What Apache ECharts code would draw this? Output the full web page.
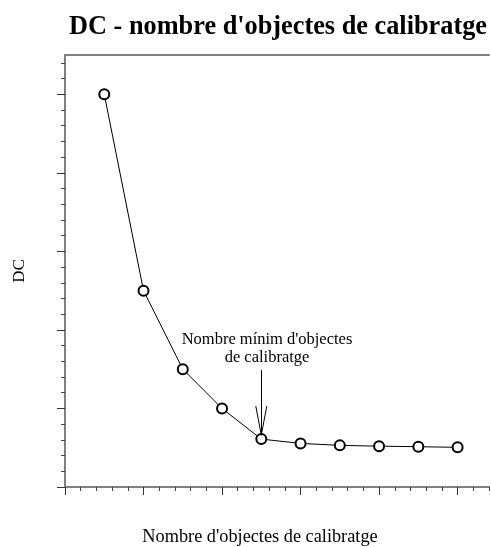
<!DOCTYPE html>
<html>
<head>
<meta charset="utf-8">
<script src="https://cdn.jsdelivr.net/npm/echarts@6/dist/echarts.min.js"></script>
<style>
  html, body { margin: 0; padding: 0; background: #fff; }
  #chart { width: 491px; height: 547px; }
</style>
</head>
<body>
<div id="chart"></div>
<script>
// nombre d'objectes de calibratge
const objectes = [5, 10, 15, 20, 25, 30, 35, 40, 45, 50]
// DC
const dcValues = [5.0, 2.5, 1.5, 1.0, 0.61, 0.555, 0.53, 0.52, 0.513, 0.505]

// ticks (no labels in the original)
const xMajorTicks = [0, 10, 20, 30, 40, 50]
const xMinorTicks = [2, 4, 6, 8, 12, 14, 16, 18, 22, 24, 26, 28, 32, 34, 36, 38, 42, 44, 46, 48, 52, 54]
const yMajorTicks = [0, 1, 2, 3, 4, 5]
const yMinorTicks = [0.2, 0.4, 0.6, 0.8, 1.2, 1.4, 1.6, 1.8, 2.2, 2.4, 2.6, 2.8, 3.2, 3.4, 3.6, 3.8, 4.2, 4.4, 4.6, 4.8, 5.2, 5.4]

// annotation arrow (data coords): shaft top, tip, and the two ends of the head
const arrowTop = [25, 1.49]
const arrowTip = [25, 0.66]
const arrowHeadL = [24.3, 1.03]
const arrowHeadR = [25.7, 1.03]
const noteText = "Nombre mínim d'objectes\nde calibratge"

const serif = '"Liberation Serif", "Times New Roman", serif'
const chart = echarts.init(document.getElementById('chart'))

const axisGray = '#808080'

chart.setOption({
  animation: false,
  title: {
    text: "DC - nombre d'objectes de calibratge",
    left: 64,
    top: 9,
    textStyle: {
      fontFamily: serif,
      fontWeight: 'bold',
      fontSize: 26.3,
      color: '#000'
    }
  },
  grid: {
    left: 65,
    right: 2,
    top: 55,
    bottom: 60,
    outerBoundsMode: 'none',
    containLabel: false
  },
  xAxis: [{
    type: 'value',
    min: 0,
    max: 54,
    position: 'bottom',
    offset: 0,
    name: "Nombre d'objectes de calibratge",
    nameLocation: 'middle',
    nameGap: 41,
    nameTextStyle: {
      fontFamily: serif,
      fontSize: 18.3,
      color: '#000',
      padding: [0, 34, 0, 0]
    },
    axisLine: { lineStyle: { color: axisGray, width: 2 } },
    axisTick: {
      show: true,
      length: 8,
      customValues: xMajorTicks,
      lineStyle: { color: '#333', width: 1 }
    },
    axisLabel: { show: false },
    splitLine: { show: false }
  }, {
    // minor ticks
    type: 'value',
    min: 0,
    max: 54,
    position: 'bottom',
    offset: 0,
    axisLine: { show: false },
    axisTick: {
      show: true,
      length: 4,
      customValues: xMinorTicks,
      lineStyle: { color: '#444', width: 1 }
    },
    axisLabel: { show: false },
    splitLine: { show: false }
  }, {
    // top frame line
    type: 'value',
    min: 0,
    max: 54,
    position: 'top',
    axisLine: { lineStyle: { color: axisGray, width: 2 } },
    axisTick: { show: false },
    axisLabel: { show: false },
    splitLine: { show: false }
  }],
  yAxis: [{
    type: 'value',
    min: 0,
    max: 5.5,
    position: 'left',
    name: 'DC',
    nameLocation: 'middle',
    nameGap: 37,
    nameTextStyle: {
      fontFamily: serif,
      fontSize: 17,
      color: '#000'
    },
    axisLine: { lineStyle: { color: axisGray, width: 2 } },
    axisTick: {
      show: true,
      length: 8,
      customValues: yMajorTicks,
      lineStyle: { color: '#333', width: 1 }
    },
    axisLabel: { show: false },
    splitLine: { show: false }
  }, {
    // minor ticks
    type: 'value',
    min: 0,
    max: 5.5,
    position: 'left',
    offset: 0,
    axisLine: { show: false },
    axisTick: {
      show: true,
      length: 4,
      customValues: yMinorTicks,
      lineStyle: { color: '#444', width: 1 }
    },
    axisLabel: { show: false },
    splitLine: { show: false }
  }],
  graphic: [{
    type: 'text',
    x: 267,
    y: 330,
    style: {
      text: noteText,
      fontFamily: serif,
      fontSize: 16.5,
      lineHeight: 18.5,
      align: 'center',
      verticalAlign: 'top',
      fill: '#000'
    }
  }],
  series: [{
    type: 'line',
    data: objectes.map((x, i) => [x, dcValues[i]]),
    symbol: 'emptyCircle',
    symbolSize: 10,
    showSymbol: true,
    lineStyle: { color: '#000', width: 1 },
    itemStyle: { color: '#000', borderColor: '#000', borderWidth: 1 },
    markLine: {
      silent: true,
      symbol: 'none',
      label: { show: false },
      lineStyle: { color: '#000', width: 1, type: 'solid' },
      data: [
        [{ coord: arrowTop }, { coord: arrowTip }],
        [{ coord: arrowHeadL }, { coord: arrowTip }],
        [{ coord: arrowHeadR }, { coord: arrowTip }]
      ]
    }
  }]
})
</script>
</body>
</html>
